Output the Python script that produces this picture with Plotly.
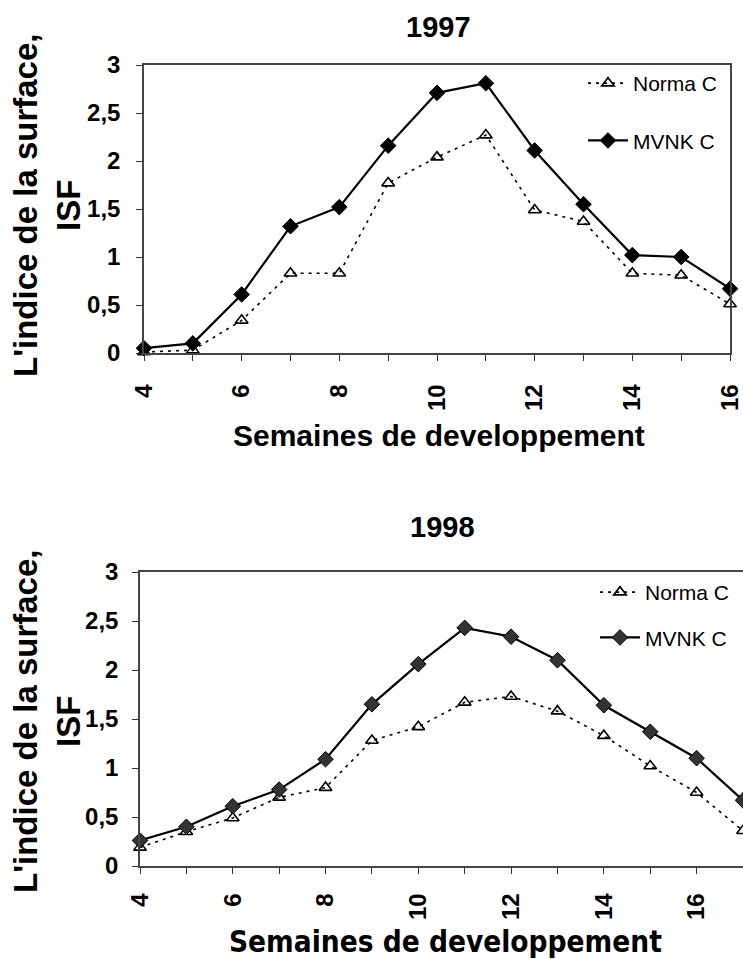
import plotly.graph_objects as go

# 1997
weeks_1997 = [4, 5, 6, 7, 8, 9, 10, 11, 12, 13, 14, 15, 16]
norma_1997 = [0.01, 0.03, 0.34, 0.83, 0.83, 1.77, 2.04, 2.27, 1.49, 1.37, 0.83, 0.81, 0.51]
mvnk_1997 = [0.05, 0.10, 0.61, 1.32, 1.52, 2.16, 2.71, 2.81, 2.11, 1.55, 1.02, 1.00, 0.67]

# 1998
weeks_1998 = [4, 5, 6, 7, 8, 9, 10, 11, 12, 13, 14, 15, 16, 17]
norma_1998 = [0.19, 0.35, 0.49, 0.70, 0.80, 1.28, 1.42, 1.67, 1.73, 1.58, 1.33, 1.02, 0.75, 0.36]
mvnk_1998 = [0.26, 0.40, 0.61, 0.78, 1.09, 1.65, 2.06, 2.43, 2.34, 2.10, 1.64, 1.37, 1.10, 0.67]

y_tickvals = [0, 0.5, 1, 1.5, 2, 2.5, 3]
y_ticktext = ["0", "0,5", "1", "1,5", "2", "2,5", "3"]

W, H = 743, 959
BOLD = "Liberation Sans"
NARROW = "DejaVu Sans Condensed, Liberation Sans"


def px_x(v):
    return v / W


def px_y(v):
    return 1 - v / H


def xlabels(weeks):
    return [str(w) if w % 2 == 0 else "" for w in weeks]


fig = go.Figure()

series = [
    (weeks_1997, norma_1997, mvnk_1997, "x", "y", "legend"),
    (weeks_1998, norma_1998, mvnk_1998, "x2", "y2", "legend2"),
]
for weeks, norma, mvnk, xa, ya, lg in series:
    fig.add_trace(go.Scatter(
        x=weeks, y=norma, name="Norma C", mode="lines+markers",
        line=dict(color="black", width=1.6, dash="3px,5px"),
        marker=dict(symbol="triangle-up-open", size=11, color="black",
                    line=dict(width=1.6)),
        xaxis=xa, yaxis=ya, legend=lg, legendgroup="a" + xa,
        cliponaxis=False,
    ))
    fig.add_trace(go.Scatter(
        x=weeks, y=mvnk, name="MVNK C", mode="lines+markers",
        line=dict(color="black", width=2.2),
        marker=dict(symbol="diamond", size=12,
                    color="black" if xa == "x" else "#333333",
                    line=dict(width=1, color="black")),
        xaxis=xa, yaxis=ya, legend=lg, legendgroup="b" + xa,
        cliponaxis=False,
    ))

axis_common = dict(
    showgrid=False, zeroline=False, showline=True, linecolor="#444444",
    linewidth=1.5, mirror=True, ticks="outside", ticklen=6,
    tickcolor="#333333", tickwidth=1, automargin=False,
    ticklabeloverflow="allow",
)
overlay_common = dict(
    showgrid=False, zeroline=False, showline=False, ticks="inside",
    ticklen=6, tickcolor="#333333", showticklabels=False, automargin=False,
)

xtick_font = dict(family=BOLD, size=24, color="black", weight="bold")
ytick_font = dict(family=BOLD, size=24, color="black", weight="bold")

fig.update_layout(
    width=W, height=H,
    margin=dict(l=0, r=0, t=0, b=0, autoexpand=False),
    paper_bgcolor="white", plot_bgcolor="white",
    showlegend=True,
    xaxis=dict(axis_common, domain=[px_x(144), px_x(730)], range=[4, 16],
               tickvals=weeks_1997, ticktext=xlabels(weeks_1997),
               tickangle=-90, tickfont=xtick_font, ticklabelstandoff=14,
               anchor="y"),
    yaxis=dict(axis_common, domain=[px_y(353), px_y(65)], range=[0, 3],
               tickvals=y_tickvals, ticktext=y_ticktext,
               tickfont=ytick_font, ticklabelstandoff=11, anchor="x"),
    xaxis2=dict(axis_common, domain=[px_x(140), 1.0], range=[4, 17],
                tickvals=weeks_1998, ticktext=xlabels(weeks_1998),
                tickangle=-90, tickfont=xtick_font, ticklabelstandoff=10,
                anchor="y2"),
    yaxis2=dict(axis_common, domain=[px_y(866), px_y(572)], range=[0, 3],
                tickvals=y_tickvals, ticktext=y_ticktext,
                tickfont=ytick_font, ticklabelstandoff=9, anchor="x2"),
    # overlay axes give the ticks that cross the axis line
    xaxis3=dict(overlay_common, overlaying="x", matches="x", anchor="y",
                side="bottom", tickvals=weeks_1997),
    yaxis3=dict(overlay_common, overlaying="y", matches="y", anchor="x",
                side="left", tickvals=y_tickvals),
    xaxis4=dict(overlay_common, overlaying="x2", matches="x2", anchor="y2",
                side="bottom", tickvals=weeks_1998),
    yaxis4=dict(overlay_common, overlaying="y2", matches="y2", anchor="x2",
                side="left", tickvals=y_tickvals),
    legend=dict(xref="container", yref="container",
                x=px_x(583), y=px_y(63), xanchor="left", yanchor="top",
                font=dict(family=BOLD, size=21, color="black"),
                bgcolor="rgba(0,0,0,0)", tracegroupgap=27, itemwidth=40),
    legend2=dict(xref="container", yref="container",
                 x=px_x(595), y=px_y(572), xanchor="left", yanchor="top",
                 font=dict(family=BOLD, size=21, color="black"),
                 bgcolor="rgba(0,0,0,0)", tracegroupgap=15, itemwidth=40),
)

annotations = [
    dict(text="1997", x=px_x(438), y=px_y(27), font=dict(size=29)),
    dict(text="1998", x=px_x(442), y=px_y(527), font=dict(size=29)),
    dict(text="Semaines de developpement", x=px_x(439), y=px_y(435),
         font=dict(size=30)),
    dict(text="Semaines de developpement", x=px_x(445), y=px_y(942),
         font=dict(size=29.5, family=NARROW)),
    dict(text="L'indice de la surface,<br>ISF", x=px_x(47), y=px_y(206),
         textangle=-90, font=dict(size=33)),
    dict(text="L'indice de la surface,<br>ISF", x=px_x(47), y=px_y(722),
         textangle=-90, font=dict(size=33)),
]
for a in annotations:
    f = dict(family=BOLD, color="black", weight="bold")
    f.update(a.pop("font"))
    fig.add_annotation(a, xref="paper", yref="paper", showarrow=False,
                       xanchor="center", yanchor="middle", font=f)

# drop the default 8px page margin so the figure fills the window exactly
fig.write_html(
    "out.html",
    config={"displayModeBar": False},
    post_script="document.body.style.margin='0';"
                "document.body.style.overflow='hidden';",
)
